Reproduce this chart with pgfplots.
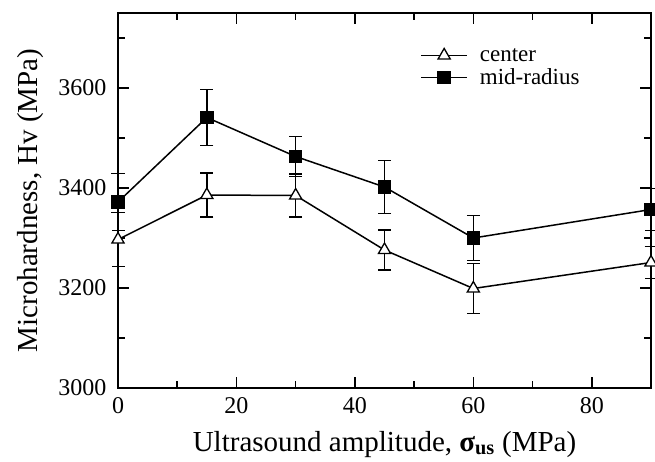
\documentclass[border=0pt]{standalone}
\usepackage{fontspec}
\setmainfont{Liberation Serif}
\usepackage{pgfplots}
\pgfplotsset{compat=1.18}
\pgfplotstableread{
x y e
0 3297 54
15 3386 44
30 3385 43
45 3276 40
60 3199 50
90 3251 32
}\centerdata
\pgfplotstableread{
x y e
0 3372 57
15 3541 56
30 3463 40
45 3402 53
60 3300 45
90 3357 42
}\midradius
\newcommand{\tl}{\fontsize{24}{27}\selectfont}
\newcommand{\legfont}{\fontsize{23}{26}\selectfont}
\begin{document}
\begin{tikzpicture}
\begin{axis}[
  font=\tl,
  scale only axis, width=533pt, height=375pt,
  xmin=0, xmax=90, ymin=3000, ymax=3750,
  xtick={0,20,40,60,80}, minor xtick={10,30,50,70},
  xticklabels={{\tl 0},{\tl 20},{\tl 40},{\tl 60},{\tl 80}},
  ytick={3000,3200,3400,3600}, minor ytick={3100,3300,3500,3700},
  yticklabels={{\tl 3000},{\tl 3200},{\tl 3400},{\tl 3600}},
  tick align=inside, major tick length=11pt, minor tick length=7pt,
  axis line style={line width=1.8pt},
  every tick/.style={line width=1.5pt, black},
  every tick label/.append style={font=\tl},
  yticklabel style={xshift=-8pt},
  xticklabel style={yshift=-6pt},
  xlabel={Ultrasound amplitude, \textbf{σ}\textsubscript{\textbf{us}} (MPa)},
  ylabel={Microhardness, Hv (MPa)},
  xlabel style={font=\fontsize{29}{32}\selectfont, inner sep=0pt,
    at={(axis description cs:0.5,0)}, anchor=base, yshift=-63pt},
  ylabel style={font=\fontsize{29}{32}\selectfont, inner sep=0pt,
    at={(axis description cs:-0.1388,0.5)}, anchor=south},
  clip=false,
  legend style={draw=none, fill=none, inner sep=0pt,
    at={(axis description cs:0.567,0.912)}, anchor=north west,
    font=\legfont, row sep=2pt,
    /tikz/every odd column/.append style={column sep=10pt}},
  legend cell align=left,
  legend image code/.code={
    \draw[mark repeat=2, mark phase=2] plot coordinates {(0pt,0pt) (23pt,0pt) (46pt,0pt)};
  },
]
\addplot[black, line width=1.5pt, mark=triangle*, mark size=7pt,
  mark options={fill=white, line width=1.3pt, solid},
  error bars/.cd, y dir=both, y explicit,
  error bar style={line width=1.4pt, black},
  error mark options={rotate=90, mark size=6.5pt, line width=1.4pt, black}]
  table[x=x, y=y, y error=e] {\centerdata};
\addlegendentry{center}
\addplot[black, line width=1.5pt, mark=square*, mark size=6pt,
  mark options={fill=black, solid},
  error bars/.cd, y dir=both, y explicit,
  error bar style={line width=1.4pt, black},
  error mark options={rotate=90, mark size=6.5pt, line width=1.4pt, black}]
  table[x=x, y=y, y error=e] {\midradius};
\addlegendentry{mid-radius}
\coordinate (SW) at (rel axis cs:0,0);
\coordinate (NE) at (rel axis cs:1,1);
\end{axis}
\pgfresetboundingbox
\path[use as bounding box] ([xshift=-118pt,yshift=-73pt]SW) rectangle ([xshift=4pt,yshift=13pt]NE);
\end{tikzpicture}
\end{document}
